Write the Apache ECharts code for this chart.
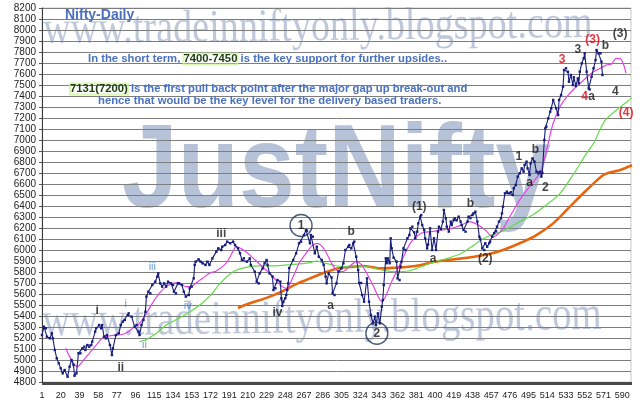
<!DOCTYPE html>
<html>
<head>
<meta charset="utf-8">
<script src="https://cdn.jsdelivr.net/npm/echarts/dist/echarts.min.js"></script>
<style>
html,body{margin:0;padding:0;background:#ffffff;}
#main{width:640px;height:418px;}
</style>
</head>
<body>
<div id="main"></div>
<script>
// ---------- DATA ----------
const xTickLabels = [1,20,39,58,77,96,115,134,153,172,191,210,229,248,267,286,305,324,343,362,381,400,419,438,457,476,495,514,533,552,571,590];

// Nifty daily close path: [day, value]
const price = [[1,5227],[3,5303],[5,5288],[6,5212],[9,5197],[11,5243],[12,5197],[14,5091],[16,5015],[18,4970],[20,4924],[22,4879],[24,4909],[27,4848],[29,4939],[31,5000],[33,4955],[34,4857],[36,4879],[38,5061],[40,5061],[42,5106],[44,5121],[45,5091],[47,5136],[49,5121],[51,5136],[52,5167],[55,5258],[56,5288],[59,5318],[61,5288],[62,5318],[64,5212],[66,5197],[67,5227],[70,5136],[72,5045],[73,5106],[76,5227],[79,5243],[81,5318],[83,5349],[85,5364],[88,5409],[89,5424],[92,5394],[95,5303],[97,5318],[99,5258],[100,5227],[102,5318],[104,5364],[106,5439],[107,5576],[109,5621],[111,5606],[113,5682],[116,5712],[118,5758],[119,5788],[121,5697],[123,5667],[125,5697],[127,5667],[129,5712],[132,5697],[134,5682],[135,5621],[137,5606],[139,5697],[140,5697],[143,5682],[145,5621],[147,5576],[150,5591],[151,5652],[153,5667],[155,5742],[156,5864],[157,5894],[160,5915],[162,5894],[164,5879],[167,5864],[169,5894],[171,5864],[174,5924],[178,5985],[180,6015],[183,6000],[184,6030],[187,6045],[189,6076],[192,6061],[195,6076],[197,6045],[200,6015],[202,5970],[204,5909],[206,5924],[209,5894],[212,5924],[213,5864],[217,5803],[219,5712],[221,5697],[222,5788],[225,5833],[227,5879],[229,5909],[230,5864],[232,5788],[235,5758],[236,5636],[238,5652],[240,5727],[243,5712],[244,5561],[245,5491],[246,5530],[248,5561],[249,5591],[250,5636],[251,5697],[252,5836],[256,5909],[259,5970],[262,6061],[264,6076],[267,6136],[269,6182],[270,6175],[273,6061],[274,6136],[276,6121],[278,5970],[280,6030],[282,5939],[285,5909],[287,5864],[289,5758],[290,5697],[292,5788],[295,5750],[296,5606],[298,5591],[300,5697],[302,5803],[305,5833],[307,5879],[309,6000],[312,6030],[313,6045],[315,6015],[317,6061],[318,6076],[320,5939],[322,5818],[323,5700],[325,5700],[326,5591],[328,5530],[331,5742],[333,5530],[335,5409],[337,5333],[339,5394],[340,5318],[342,5424],[344,5333],[346,5485],[347,5545],[348,5682],[350,5924],[351,5880],[352,5924],[354,5880],[355,6106],[356,6015],[358,5930],[361,5894],[362,5742],[364,5727],[365,5848],[366,5894],[368,6015],[370,6000],[372,6106],[374,6136],[375,6197],[377,6212],[379,6160],[380,6106],[382,6167],[383,6242],[385,6303],[386,6318],[387,6227],[389,6182],[390,6106],[392,6015],[393,6050],[395,6197],[397,6000],[399,6106],[401,6000],[403,6167],[404,6212],[406,6190],[408,6258],[409,6364],[411,6288],[412,6212],[414,6167],[416,6258],[417,6227],[419,6273],[420,6288],[422,6270],[424,6303],[426,6258],[427,6227],[429,6182],[431,6167],[433,6258],[434,6303],[436,6290],[438,6318],[439,6333],[441,6348],[443,6258],[445,6121],[446,6100],[448,6015],[450,6000],[451,6061],[453,6030],[455,6061],[456,6076],[458,6121],[460,6152],[462,6170],[463,6212],[465,6258],[467,6288],[468,6333],[469,6394],[471,6515],[473,6530],[475,6515],[477,6525],[479,6500],[480,6561],[482,6591],[484,6667],[486,6697],[488,6742],[490,6712],[491,6773],[493,6803],[494,6742],[496,6682],[497,6788],[499,6833],[501,6803],[503,6712],[505,6697],[507,6712],[508,6667],[509,6700],[511,7000],[512,7106],[513,7121],[515,7197],[517,7258],[518,7288],[520,7364],[523,7288],[525,7227],[526,7364],[528,7409],[530,7485],[531,7636],[533,7652],[535,7620],[536,7530],[538,7591],[540,7500],[541,7570],[543,7491],[545,7560],[546,7515],[547,7621],[549,7697],[551,7742],[552,7788],[554,7621],[556,7470],[557,7460],[559,7576],[561,7652],[563,7727],[564,7818],[566,7788],[568,7788],[569,7712],[570,7591]];

// short moving average (magenta)
const maShort = [[25,5106],[37,4939],[42,4985],[49,5061],[56,5136],[62,5197],[69,5218],[79,5227],[86,5243],[93,5288],[100,5333],[106,5409],[113,5515],[120,5606],[127,5667],[134,5697],[140,5703],[147,5667],[152,5667],[157,5697],[164,5742],[171,5788],[178,5810],[188,5880],[195,5990],[198,6030],[208,5985],[215,5930],[222,5870],[227,5830],[234,5773],[242,5690],[249,5652],[256,5758],[262,5879],[269,5970],[276,6045],[281,6061],[288,6000],[295,5879],[300,5818],[306,5803],[313,5848],[320,5894],[325,5870],[330,5800],[337,5680],[346,5530],[356,5712],[366,5900],[376,6076],[386,6152],[396,6167],[407,6182],[417,6197],[427,6227],[435,6258],[444,6227],[451,6182],[459,6120],[468,6182],[476,6303],[486,6455],[496,6576],[507,6712],[513,6900],[520,7152],[527,7303],[534,7394],[540,7455],[551,7545],[561,7621],[568,7652],[574,7682],[579,7690],[584,7742],[588,7740],[591,7697],[594,7606]];

// medium moving average (green)
const maMid = [[100,5167],[106,5182],[117,5243],[127,5318],[140,5379],[154,5455],[164,5521],[174,5606],[181,5690],[195,5803],[208,5842],[222,5855],[235,5855],[249,5864],[262,5873],[273,5885],[280,5900],[286,5885],[296,5864],[306,5848],[318,5855],[331,5848],[346,5818],[359,5803],[373,5809],[386,5848],[400,5894],[413,5924],[427,5970],[437,6030],[447,6091],[457,6136],[469,6173],[486,6258],[499,6318],[513,6409],[527,6515],[540,6680],[554,6880],[561,6970],[572,7170],[584,7270],[595,7348],[600,7385]];

// long moving average (orange)
const maLong = [[200,5473],[212,5515],[229,5565],[245,5624],[259,5690],[273,5742],[286,5788],[300,5830],[313,5845],[327,5855],[346,5833],[359,5839],[373,5848],[386,5864],[400,5894],[413,5909],[427,5924],[440,5939],[454,5961],[469,6000],[486,6061],[503,6136],[520,6242],[537,6394],[554,6545],[571,6682],[581,6712],[588,6727],[600,6770]];

// wave-count annotations
const annTexts  = ['i','ii','i','ii','iii','iv','iii','iv','a','b','(1)','a','b','(2)','1','a','b','2','3','3','(3)','b','(3)','4','a','4','(4)'];
const annDays   = [57,81,86,105,113,149,183,240,294,315,384,398,436,451,485,496,502,512,529,545,560,573,588,552,559,583,594];
const annVals   = [5448,4934,5509,5136,5848,5491,6152,5434,5491,6166,6394,5925,6418,5925,6848,6612,6909,6570,7727,7825,7909,7855,7964,7394,7394,7436,7248];
const annKinds  = ['k','k','c','c','c','c','k','k','k','k','k','k','k','k','k','k','k','k','r','k','r','k','k','r','k','k','r'];

const circTexts = ['1','2'];
const circDays  = [264,341];
const circVals  = [6223,5243];

const urlText = 'www.tradeinniftyonly.blogspot.com';

// ---------- CHART ----------
const kindColor = {k:'#141414', c:'#4a86c4', r:'#e3000f'};
const allDays = [];
for (let d = 1; d <= 599; d++) allDays.push(d);

const annData = annTexts.map((t,i)=>({
  name:t, value:[annDays[i], annVals[i]],
  label:{color:kindColor[annKinds[i]], fontSize: annKinds[i]==='c'?11:12, fontWeight: annKinds[i]==='c'?'normal':'bold'}
}));
const circData = circTexts.map((t,i)=>({name:t, value:[circDays[i], circVals[i]]}));

const hl = {font:'bold 11.3px "Liberation Sans"', fill:'#1d3d10', color:'#1d3d10', textBorderColor:'rgba(205,245,150,0.75)', textBorderWidth:2};
const bl = {font:'bold 11.3px "Liberation Sans"', fill:'#4b72bf', color:'#4b72bf'};

const chart = echarts.init(document.getElementById('main'), null, {renderer:'canvas'});
const option = {
  animation:false,
  backgroundColor:'#ffffff',
  grid:{left:42,right:9,top:8,bottom:36,show:true,borderColor:'#c9c9c9',borderWidth:1,outerBoundsMode:'none'},
  xAxis:{
    type:'value', min:1, max:599,
    axisLine:{show:true,lineStyle:{color:'#3a3a3a',width:1}},
    axisTick:{show:true,customValues:allDays,length:3,lineStyle:{color:'#4a4a4a',width:1}},
    axisLabel:{customValues:xTickLabels,color:'#222',fontSize:9,fontFamily:'"Liberation Sans", Arial',margin:9,hideOverlap:false,formatter:v=>String(v)},
    splitLine:{show:false}
  },
  yAxis:{
    type:'value', min:4800, max:8200, interval:100, position:'left',
    axisLine:{show:true,lineStyle:{color:'#3a3a3a',width:1}},
    axisTick:{show:true,length:3,lineStyle:{color:'#555'}},
    axisLabel:{color:'#222',fontSize:10,fontFamily:'"Liberation Sans", Arial',margin:6,formatter:v=>String(v)},
    splitLine:{show:true,lineStyle:{color:'#7d7d7d',width:1}}
  },
  graphic:[
    {type:'text', z:-5, x:43, y:31, rotation:0.011, scaleX:0.83,
      style:{text:urlText, font:'46px "Liberation Serif"', fill:'#bfc8db', verticalAlign:'middle', textVerticalAlign:'middle'}},
    {type:'text', z:-5, x:42, y:323, rotation:0.012, scaleX:0.81,
      style:{text:urlText, font:'48px "Liberation Serif"', fill:'#bfc8db', verticalAlign:'middle', textVerticalAlign:'middle'}},
    {type:'text', z:-5, x:122, y:174, scaleX:0.85,
      style:{text:'JustNifty', font:'bold 118px "Liberation Sans"', fill:'#b6c2d8', verticalAlign:'middle', textVerticalAlign:'middle'}},
    {type:'text', z:20, x:65, y:15,
      style:{text:'Nifty-Daily', font:'bold 14px "Liberation Sans"', fill:'#4a6fbf', verticalAlign:'middle', textVerticalAlign:'middle'}},
    {type:'text', z:20, x:88, y:59,
      style:{text:'{b|In the short term, }{g|7400-7450}{b| is the key support for further upsides..}',
        verticalAlign:'middle', textVerticalAlign:'middle', rich:{b:bl, g:hl}}},
    {type:'text', z:20, x:70, y:89,
      style:{text:'{g|7131(7200)}{b| is the first pull back point after the major gap up break-out and}',
        verticalAlign:'middle', textVerticalAlign:'middle', rich:{b:bl, g:hl}}},
    {type:'text', z:20, x:98, y:101,
      style:{text:'hence that would be the key level for the delivery based traders.', font:'bold 11.3px "Liberation Sans"', fill:'#4b72bf', verticalAlign:'middle', textVerticalAlign:'middle'}}
  ],
  series:[
    {type:'line', name:'long', data:maLong, showSymbol:false, smooth:0.3, z:3,
      lineStyle:{color:'#e8650c', width:2.6}, silent:true},
    {type:'line', name:'mid', data:maMid, showSymbol:false, smooth:0.3, z:3,
      lineStyle:{color:'#62dc48', width:1.2}, silent:true},
    {type:'line', name:'short', data:maShort, showSymbol:false, smooth:0.3, z:3,
      lineStyle:{color:'#e046e4', width:1.2}, silent:true},
    {type:'line', name:'price', data:price, showSymbol:true, symbol:'rect', symbolSize:2.4, z:4,
      itemStyle:{color:'#161c7a'}, lineStyle:{color:'#161c7a', width:1.1}, silent:true},
    {type:'scatter', name:'ann', data:annData, symbol:'circle', symbolSize:1, z:6, silent:true,
      itemStyle:{color:'rgba(0,0,0,0)'},
      label:{show:true, position:'inside', formatter:'{b}', fontFamily:'"Liberation Sans", Arial'}},
    {type:'scatter', name:'circ', data:circData, symbol:'circle', symbolSize:22, z:6, silent:true,
      itemStyle:{color:'rgba(255,255,255,0)', borderColor:'#1d3160', borderWidth:1.4},
      label:{show:true, position:'inside', formatter:'{b}', color:'#111', fontSize:12, fontWeight:'bold', fontFamily:'"Liberation Sans", Arial'}}
  ]
};
chart.setOption(option);
</script>
</body>
</html>
